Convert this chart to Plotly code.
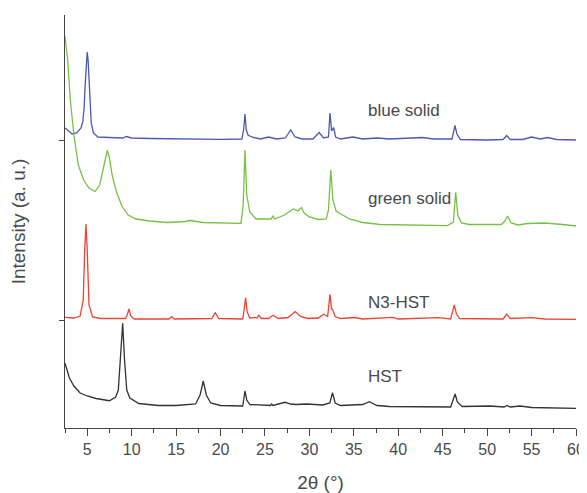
import plotly.graph_objects as go

# ---- data (2θ in degrees, intensity in a.u., traces already stacked) ----
blue_x = [2.5, 3.0, 3.3, 3.8, 4.3, 4.5, 4.65, 4.75, 4.9, 5.0, 5.1, 5.25, 5.45, 5.7, 6.2, 7.5, 9.0, 9.4, 10.0, 12, 15, 20,
          22.4, 22.6, 22.75, 22.9, 23.1, 23.5, 24.5, 25.4, 26.3, 27.3, 27.9, 28.4, 29.2, 30.4, 31.1, 31.6,
          32.15, 32.32, 32.5, 32.73, 32.95, 33.5, 34.9, 36, 37.6, 39, 42.7, 44, 46.05, 46.38, 46.6, 47,
          50, 51.8, 52.2, 52.6, 54, 55.0, 56, 56.8, 57.8, 60]
blue_y = [300, 296, 294, 295, 300, 306, 320, 340, 368, 376, 368, 340, 305, 295, 291, 290.5, 290, 291.5, 290, 289.5, 289, 288.7,
          289, 298, 314, 298, 293, 291, 289, 291, 289, 290, 298, 291, 289, 289, 295.5, 290,
          291, 315, 297, 300.5, 291, 289, 291, 289, 290, 289, 290.5, 289, 289, 302.5, 294, 288.5,
          288, 288.5, 292.5, 288.5, 288.5, 291, 289, 290.5, 288.5, 288]

green_x = [2.5, 2.8, 3.1, 3.5, 4.0, 4.6, 5.2, 5.9, 6.4, 6.8, 7.0, 7.26, 7.5, 7.8, 8.3, 8.9, 9.6, 10.5, 12,
           14, 16, 16.6, 18, 20, 22.3, 22.55, 22.75, 22.95, 23.3, 24, 25.7, 25.9, 26.1, 27.2, 28.2, 28.7,
           29.1, 29.4, 30.0, 31.0, 31.9, 32.15, 32.4, 32.65, 33.0, 34.5, 36, 38, 40, 43, 45.5, 46.2,
           46.46, 46.7, 47.1, 48, 51.6, 52.0, 52.3, 52.7, 53.5, 54.5, 56.5, 58.5, 60]
green_y = [392, 368, 328, 293, 263, 248, 240, 236.5, 243, 260, 266, 277.5, 270, 253, 236, 222, 213, 209, 207,
           205.5, 206.5, 207.5, 205.5, 205, 204.7, 223, 278, 233, 216, 209, 209, 212, 209, 213, 219, 217,
           220.5, 215, 211, 208.5, 209, 218, 258, 228, 217, 209, 205.5, 203.5, 203, 202.5, 202.3, 206,
           235.7, 213, 205, 203.5, 203.5, 207, 212, 205, 203, 204.5, 205, 203.5, 202]

red_x = [2.5, 3.5, 4.2, 4.55, 4.72, 4.86, 5.0, 5.2, 5.6, 6.5, 9.3, 9.5, 9.7, 9.9, 10.3, 14.2, 14.5, 14.8,
         19.0, 19.4, 19.8, 22.5, 22.65, 22.83, 23.0, 23.3, 23.9, 24.1, 24.3, 24.6, 25.4, 25.9, 26.5,
         27.6, 28.4, 29.0, 29.8, 31.0, 31.6, 32.05, 32.32, 32.48, 32.6, 32.9, 33.5, 35.1, 36, 39.4, 40,
         44.5, 45.9, 46.1, 46.3, 46.55, 46.9, 51.8, 52.2, 52.6, 55, 56.5, 60]
red_y = [110.7, 110, 112, 128, 178, 204, 178, 123, 111, 109.5, 109.5, 113, 119, 112, 109, 109, 111.3, 109,
         109.5, 115.3, 109.5, 109, 118, 130.3, 116, 110, 110.7, 110, 112.7, 109.5, 109.5, 112.7, 109.5,
         110.5, 116.5, 111.5, 109.5, 110, 113.7, 111.5, 133.7, 119, 118.7, 111.5, 109.5, 110.5, 109, 110.7, 109,
         110.3, 109, 115, 123, 114, 109.5, 109, 114, 109.5, 110.3, 109, 108.7]

black_x = [2.5, 3.0, 3.5, 4.2, 5.0, 6.0, 7.5, 8.2, 8.5, 8.75, 8.99, 9.2, 9.45, 9.8, 10.8, 13, 15, 17.2,
           17.7, 18.06, 18.4, 18.9, 20, 22.5, 22.75, 22.95, 23.3, 25.6, 25.75, 25.9, 27.25, 27.9, 28.5,
           29.7, 31.5, 32.3, 32.6, 32.9, 33.5, 36.0, 36.75, 37.6, 39, 45.9, 46.15, 46.4, 46.65, 47.2,
           50.3, 51.9, 52.25, 52.6, 53.7, 55, 60]
black_y = [64.7, 50, 42, 35, 32, 29.5, 27.3, 31, 38, 68, 104.7, 68, 38, 30, 24.5, 22.5, 22.5, 24,
           33, 47, 33, 25, 22.5, 22, 37, 28, 23.5, 22.5, 24, 22.5, 25.7, 24, 23.5,
           24, 23, 25, 35.3, 25, 22.5, 23.5, 26.3, 22.5, 21.5, 21, 27, 34, 26, 21.5,
           22, 21, 22.5, 21, 22, 20.5, 19.7]

labels = ["blue solid", "green solid", "N3-HST", "HST"]
colors = ["#4b59b0", "#77c043", "#ee4234", "#333333"]
label_x = [36.4, 36.4, 36.4, 36.4]
label_y = [318, 230, 126, 52]
x_ticks = [5, 10, 15, 20, 25, 30, 35, 40, 45, 50, 55, 60]
y_marks = [108, 288]

series = [(blue_x, blue_y), (green_x, green_y), (red_x, red_y), (black_x, black_y)]

FONT = "Liberation Sans, Arial, Helvetica, sans-serif"
TXT = "#4a4a4a"

fig = go.Figure()
for (xs, ys), name, col in zip(series, labels, colors):
    fig.add_trace(go.Scatter(x=xs, y=ys, mode="lines", name=name,
                             line=dict(color=col, width=1.3), showlegend=False))

for name, lx, ly in zip(labels, label_x, label_y):
    fig.add_annotation(x=lx, y=ly, text=name, showarrow=False, xanchor="left", yanchor="middle",
                       font=dict(family=FONT, size=17, color=TXT))

fig.update_layout(
    width=587, height=493,
    margin=dict(l=57, r=19, t=7, b=73),
    paper_bgcolor="white", plot_bgcolor="white",
    font=dict(family=FONT, color=TXT),
    xaxis=dict(range=[2.5, 60], showgrid=False, zeroline=False, showline=True,
               linecolor="#444", linewidth=1.2, ticks="outside", ticklen=7, tickwidth=1.2,
               tickcolor="#444", tickvals=x_ticks, tickfont=dict(size=16, color=TXT),
               ticklabeloverflow="allow",
               minor=dict(dtick=2.5, tick0=2.5, ticks="outside", ticklen=4, tickwidth=1.2, tickcolor="#444"),
               title=dict(text="2θ (°)", font=dict(size=19, color=TXT), standoff=18)),
    yaxis=dict(range=[0, 413], showgrid=False, zeroline=False, showline=True,
               linecolor="#444", linewidth=1.2, ticks="outside", ticklen=5, tickwidth=1.2,
               tickcolor="#444", tickvals=y_marks, ticktext=["", ""],
               title=dict(text="Intensity (a. u.)", font=dict(size=19, color=TXT), standoff=25)),
)

fig.write_html("out.html")
